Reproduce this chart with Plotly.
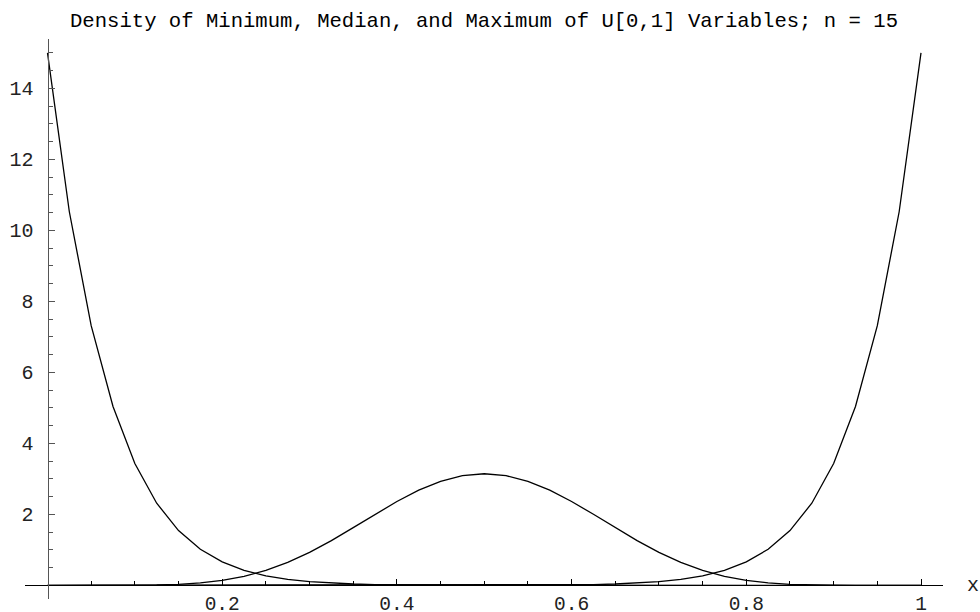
import plotly.graph_objects as go

# sample positions
x_vals = [0.0, 0.025, 0.05, 0.075, 0.1, 0.125, 0.15, 0.175, 0.2, 0.225, 0.25,
          0.275, 0.3, 0.325, 0.35, 0.375, 0.4, 0.425, 0.45, 0.475, 0.5,
          0.525, 0.55, 0.575, 0.6, 0.625, 0.65, 0.675, 0.7, 0.725, 0.75,
          0.775, 0.8, 0.825, 0.85, 0.875, 0.9, 0.925, 0.95, 0.975, 1.0]

density_min = [15.0, 10.523, 7.315, 5.036, 3.432, 2.313, 1.542, 1.015, 0.660, 0.423, 0.267,
               0.166, 0.102, 0.061, 0.036, 0.021, 0.012, 0.0065, 0.0035, 0.0018, 0.0009,
               0.0004, 0.0002, 0.0001, 0.0, 0.0, 0.0, 0.0, 0.0, 0.0, 0.0,
               0.0, 0.0, 0.0, 0.0, 0.0, 0.0, 0.0, 0.0, 0.0, 0.0]

density_median = [0.0, 0.0, 0.00003, 0.0004, 0.0025, 0.0096, 0.0282, 0.0673, 0.1382, 0.2523, 0.4194,
                  0.6442, 0.9272, 1.2584, 1.6235, 2.0000, 2.3611, 2.6790, 2.9285, 3.0875, 3.1421,
                  3.0875, 2.9285, 2.6790, 2.3611, 2.0000, 1.6235, 1.2584, 0.9272, 0.6442, 0.4194,
                  0.2523, 0.1382, 0.0673, 0.0282, 0.0096, 0.0025, 0.0004, 0.00003, 0.0, 0.0]

density_max = [0.0, 0.0, 0.0, 0.0, 0.0, 0.0, 0.0, 0.0, 0.0, 0.0, 0.0,
               0.0, 0.0, 0.0, 0.0, 0.0, 0.0, 0.0001, 0.0002, 0.0004, 0.0009,
               0.0018, 0.0035, 0.0065, 0.012, 0.021, 0.036, 0.061, 0.102, 0.166, 0.267,
               0.423, 0.660, 1.015, 1.542, 2.313, 3.432, 5.036, 7.315, 10.523, 15.0]

x_tick_vals = [0.2, 0.4, 0.6, 0.8, 1.0]
x_tick_text = ["0.2", "0.4", "0.6", "0.8", "1"]
y_tick_vals = [2, 4, 6, 8, 10, 12, 14]
y_tick_text = ["2", "4", "6", "8", "10", "12", "14"]

title_text = "Density of Minimum, Median, and Maximum of U[0,1] Variables; n = 15"

FONT = "Liberation Mono, Courier New, monospace"

x_range = [-0.02576, 1.02519]
y_range = [-0.386, 15.39]

fig = go.Figure()
for ys in (density_min, density_median, density_max):
    fig.add_trace(go.Scatter(x=x_vals, y=ys, mode="lines",
                             line=dict(color="black", width=1.3),
                             showlegend=False, hoverinfo="skip"))

x_minor = [round(0.05 * k, 2) for k in range(1, 21) if k % 4 != 0]
y_minor = [0.5 * k for k in range(1, 31) if k % 4 != 0]

fig.update_layout(
    width=980, height=612,
    margin=dict(l=25, r=37, t=39, b=13, autoexpand=False),
    paper_bgcolor="white", plot_bgcolor="white",
    title=dict(text=title_text, x=0.5, xref="paper", xanchor="center",
               y=1 - 20 / 612, yref="container", yanchor="middle",
               font=dict(family=FONT, size=20.6, color="black")),
    xaxis=dict(range=x_range, showgrid=False, zeroline=False, automargin=False,
               showline=True, linecolor="black", linewidth=1,
               anchor="free", position=(0 - y_range[0]) / (y_range[1] - y_range[0]),
               tickmode="array", tickvals=x_tick_vals, ticktext=x_tick_text,
               ticks="inside", ticklen=6, tickcolor="black", tickwidth=1,
               ticklabelstandoff=0,
               tickfont=dict(family=FONT, size=19.5, color="#222"),
               minor=dict(tickmode="array", tickvals=x_minor, ticks="inside",
                          ticklen=4, tickcolor="black", tickwidth=1, showgrid=False)),
    yaxis=dict(range=y_range, showgrid=False, zeroline=False, automargin=False,
               showline=True, linecolor="#555", linewidth=1.3,
               anchor="free", position=(0 - x_range[0]) / (x_range[1] - x_range[0]),
               tickmode="array", tickvals=y_tick_vals, ticktext=y_tick_text,
               ticks="inside", ticklen=6, tickcolor="#555", tickwidth=1,
               ticklabelstandoff=10,
               tickfont=dict(family=FONT, size=20, color="#222"),
               minor=dict(tickmode="array", tickvals=y_minor, ticks="inside",
                          ticklen=4, tickcolor="#555", tickwidth=1, showgrid=False)),
)

fig.add_annotation(x=1.0, y=0, xref="x", yref="y", text="x", showarrow=False,
                   xanchor="center", yanchor="middle", xshift=52,
                   font=dict(family=FONT, size=20, color="#222"))

fig.write_html("out.html",
               config={"displayModeBar": False, "staticPlot": True},
               post_script="document.body.style.margin='0';document.body.style.overflow='hidden';")
